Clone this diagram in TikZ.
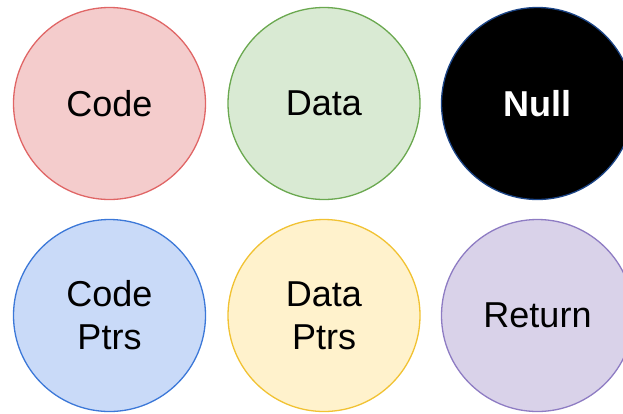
\documentclass[tikz,border=0pt]{standalone}
\usepackage{fontspec}
\setmainfont{Liberation Sans}
\usetikzlibrary{positioning}
\definecolor{codeFill}{HTML}{F4CCCC}
\definecolor{codeLine}{HTML}{E06666}
\definecolor{dataFill}{HTML}{D9EAD3}
\definecolor{dataLine}{HTML}{6AA84F}
\definecolor{nullLine}{HTML}{1C4587}
\definecolor{cptrFill}{HTML}{C9DAF8}
\definecolor{cptrLine}{HTML}{3C78D8}
\definecolor{dptrFill}{HTML}{FFF2CC}
\definecolor{dptrLine}{HTML}{F1C232}
\definecolor{retFill}{HTML}{D9D2E9}
\definecolor{retLine}{HTML}{8E7CC3}
\tikzset{
  region/.style={circle, line width=1.3pt, inner sep=0pt,
                 minimum size=192pt, align=center,
                 font=\fontsize{36}{43}\selectfont},
  codeV/.style={region, draw=codeLine, fill=codeFill},
  dataV/.style={region, draw=dataLine, fill=dataFill},
  nullV/.style={region, draw=nullLine, fill=black,
                font=\fontsize{36}{43}\selectfont\bfseries\color{white}},
  cptrV/.style={region, draw=cptrLine, fill=cptrFill},
  dptrV/.style={region, draw=dptrLine, fill=dptrFill},
  retV/.style={region, draw=retLine, fill=retFill},
}
\begin{document}
\begin{tikzpicture}[x=1pt, y=-1pt]
    \useasboundingbox (0,0) rectangle (623,413);
    %% top row
    \node[codeV] (code) at (109.5,103.5) {Code};
    \node[dataV] (data) at (324,103.5) {Data};
    \node[nullV] (null) at (537.5,103.5) {Null};
    %% bottom row
    \node[cptrV] (cptr) at (109.5,315.5) {Code\\Ptrs};
    \node[dptrV] (dptr) at (324,315.5) {Data\\Ptrs};
    \node[retV] (ret) at (537.5,315.5) {Return};
\end{tikzpicture}
\end{document}
